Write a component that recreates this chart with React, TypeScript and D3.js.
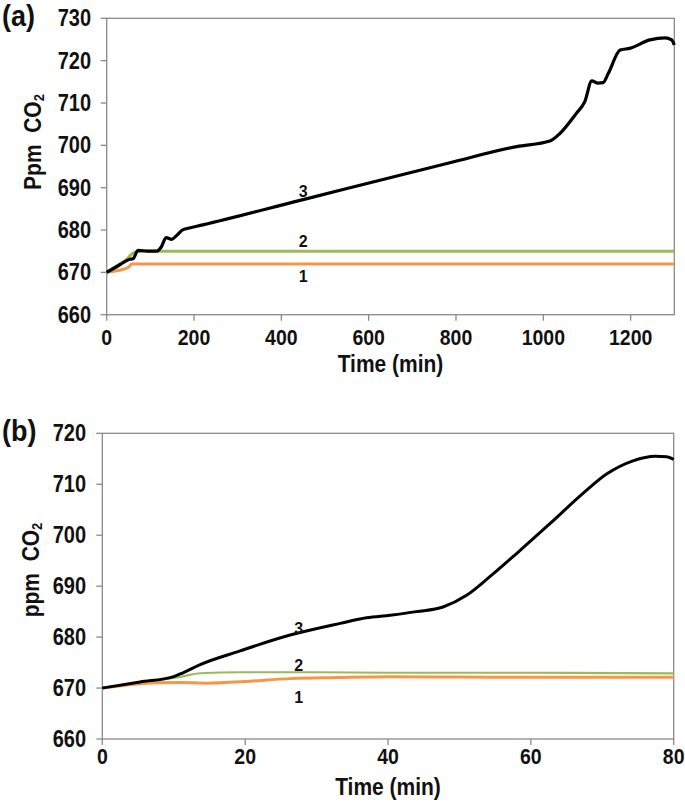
import React from "react";
import * as d3 from "d3";

// Panel (a): time in minutes, ppm CO2
const aTime3 = [0, 30, 53, 60, 72, 95, 114, 125, 136, 149, 160, 175, 182, 220, 443, 786, 939, 1015, 1038, 1076, 1095, 1111, 1125, 1137, 1149, 1176, 1198, 1244, 1279, 1294, 1300];
const aVal3 = [670, 671.8, 673.1, 673.2, 675.2, 675, 675, 676, 678.2, 677.8, 678.7, 680.1, 680.3, 681.2, 687, 695.9, 699.7, 701, 702.8, 707.6, 710.3, 715.2, 714.7, 714.8, 717, 722.5, 722.9, 724.9, 725.4, 724.9, 723.7];
const aTime2 = [0, 30, 45, 56, 70, 200, 600, 1000, 1300];
const aVal2 = [670, 672, 673, 674.2, 675, 675, 675, 675, 675];
const aTime1 = [0, 20, 40, 50, 58, 200, 600, 1000, 1300];
const aVal1 = [670, 670.3, 670.8, 671.2, 672, 672, 672, 672, 672];

// Panel (b)
const bTime3 = [0, 5.3, 9.9, 11.3, 13.7, 19.3, 26.3, 33.3, 37, 40.3, 44, 47.7, 51, 54.3, 58, 62.7, 67.3, 70.6, 74.3, 77.4, 79, 80];
const bVal3 = [670, 671.2, 672.2, 673, 674.6, 677.3, 680.4, 682.7, 683.8, 684.3, 685, 685.9, 688.2, 691.9, 696.4, 702.3, 708.2, 712, 714.6, 715.5, 715.4, 714.9];
const bTime2 = [0, 5.3, 10.9, 13.7, 19.3, 30, 40, 60, 80];
const bVal2 = [670, 671.1, 672.2, 672.9, 673.1, 673.1, 673, 673, 672.9];
const bTime1 = [0, 7.6, 11.3, 14.6, 20, 26.3, 33, 40.3, 50, 60, 80];
const bVal1 = [670, 671.05, 671.1, 670.95, 671.3, 671.85, 672.05, 672.2, 672.15, 672.1, 672.1];

const aXTicks = [0, 200, 400, 600, 800, 1000, 1200];
const aYTicks = [660, 670, 680, 690, 700, 710, 720, 730];
const bXTicks = [0, 20, 40, 60, 80];
const bYTicks = [660, 670, 680, 690, 700, 710, 720];

const seriesLabels = ["1", "2", "3"];
const aLabelTime = 450;
const aLabelVals = [669.1, 677.3, 689.2];
const bLabelTime = 27.5;
const bLabelVals = [668.3, 674.5, 681.7];

const COLORS = { s1: "#F79646", s2: "#9BBB59", s3: "#000000" };
const FONT = "'Liberation Sans', Arial, sans-serif";
const AXIS = "#8a8a8a";

function T(props: { x: number; y: number; size: number; sy?: number; anchor?: string; children: React.ReactNode }) {
  const sy = props.sy ?? 1.15;
  return (
    <text
      transform={`translate(${props.x},${props.y}) scale(1,${sy})`}
      fontSize={props.size}
      textAnchor={props.anchor ?? "start"}
    >
      {props.children}
    </text>
  );
}

type PanelProps = {
  letter: string;
  yTitle: string;
  x0: number; x1: number; y0: number; y1: number;
  xDomain: [number, number]; yDomain: [number, number];
  xTicks: number[]; yTicks: number[];
  series: { t: number[]; v: number[]; color: string; w: number }[];
  labelT: number; labelV: number[];
  letterY: number; yTitleX: number; yTitleY: number;
  xLabelY: number; xTitleY: number; yLabelRight: number;
};

function Panel(p: PanelProps) {
  const x = d3.scaleLinear().domain(p.xDomain).range([p.x0, p.x1]);
  const y = d3.scaleLinear().domain(p.yDomain).range([p.y1, p.y0]);
  const line = d3
    .line<[number, number]>()
    .x((d) => x(d[0]))
    .y((d) => y(d[1]))
    .curve(d3.curveMonotoneX);
  return (
    <g fontFamily={FONT} fontWeight="bold" fill="#111">
      <T x={2} y={p.letterY} size={27} sy={1.1}>{p.letter}</T>
      <rect x={p.x0} y={p.y0} width={p.x1 - p.x0} height={p.y1 - p.y0} fill="none" stroke={AXIS} strokeWidth={1.3} />
      {p.xTicks.map((t) => (
        <g key={"xt" + t}>
          <line x1={x(t)} x2={x(t)} y1={p.y1} y2={p.y1 + 6} stroke={AXIS} strokeWidth={1.3} />
          <T x={x(t)} y={p.xLabelY} size={19.5} anchor="middle">{t}</T>
        </g>
      ))}
      {p.yTicks.map((t) => (
        <g key={"yt" + t}>
          <line x1={p.x0 - 6} x2={p.x0} y1={y(t)} y2={y(t)} stroke={AXIS} strokeWidth={1.3} />
          <T x={p.yLabelRight} y={y(t) + 8} size={20} anchor="end">{t}</T>
        </g>
      ))}
      {p.series.map((s, i) => (
        <path
          key={"s" + i}
          d={line(s.t.map((t, j) => [t, s.v[j]] as [number, number])) || ""}
          fill="none"
          stroke={s.color}
          strokeWidth={s.w}
          strokeLinejoin="round"
        />
      ))}
      {seriesLabels.map((l, i) => (
        <T key={"l" + l} x={x(p.labelT)} y={y(p.labelV[i]) + 6} size={16} sy={1.05} anchor="middle">{l}</T>
      ))}
      <T x={(p.x0 + p.x1) / 2} y={p.xTitleY} size={21} anchor="middle">Time (min)</T>
      <text transform={`translate(${p.yTitleX},${p.yTitleY}) rotate(-90) scale(1,1.1)`} fontSize={21} textAnchor="middle" dominantBaseline="central">
        {p.yTitle}{"\u00a0 CO"}
        <tspan fontSize={13} dy={5}>2</tspan>
      </text>
    </g>
  );
}

export default function App() {
  return (
    <svg width={685} height={802} style={{ position: "absolute", left: 0, top: 0, background: "#fff" }}>
      <rect x={0} y={0} width={685} height={802} fill="#fff" />
      <Panel
        letter="(a)" yTitle="Ppm"
        x0={106.7} x1={674.3} y0={18.3} y1={314.7}
        xDomain={[0, 1300]} yDomain={[660, 730]}
        xTicks={aXTicks} yTicks={aYTicks}
        series={[
          { t: aTime2, v: aVal2, color: COLORS.s2, w: 3 },
          { t: aTime1, v: aVal1, color: COLORS.s1, w: 3 },
          { t: aTime3, v: aVal3, color: COLORS.s3, w: 3.2 },
        ]}
        labelT={aLabelTime} labelV={aLabelVals}
        letterY={26} yTitleX={33} yTitleY={142}
        xLabelY={345} xTitleY={372} yLabelRight={91}
      />
      <Panel
        letter="(b)" yTitle="ppm"
        x0={102.3} x1={673.7} y0={433.3} y1={739}
        xDomain={[0, 80]} yDomain={[660, 720]}
        xTicks={bXTicks} yTicks={bYTicks}
        series={[
          { t: bTime2, v: bVal2, color: COLORS.s2, w: 2.2 },
          { t: bTime1, v: bVal1, color: COLORS.s1, w: 3 },
          { t: bTime3, v: bVal3, color: COLORS.s3, w: 3 },
        ]}
        labelT={bLabelTime} labelV={bLabelVals}
        letterY={441} yTitleX={31} yTitleY={570}
        xLabelY={764} xTitleY={795} yLabelRight={86}
      />
    </svg>
  );
}
